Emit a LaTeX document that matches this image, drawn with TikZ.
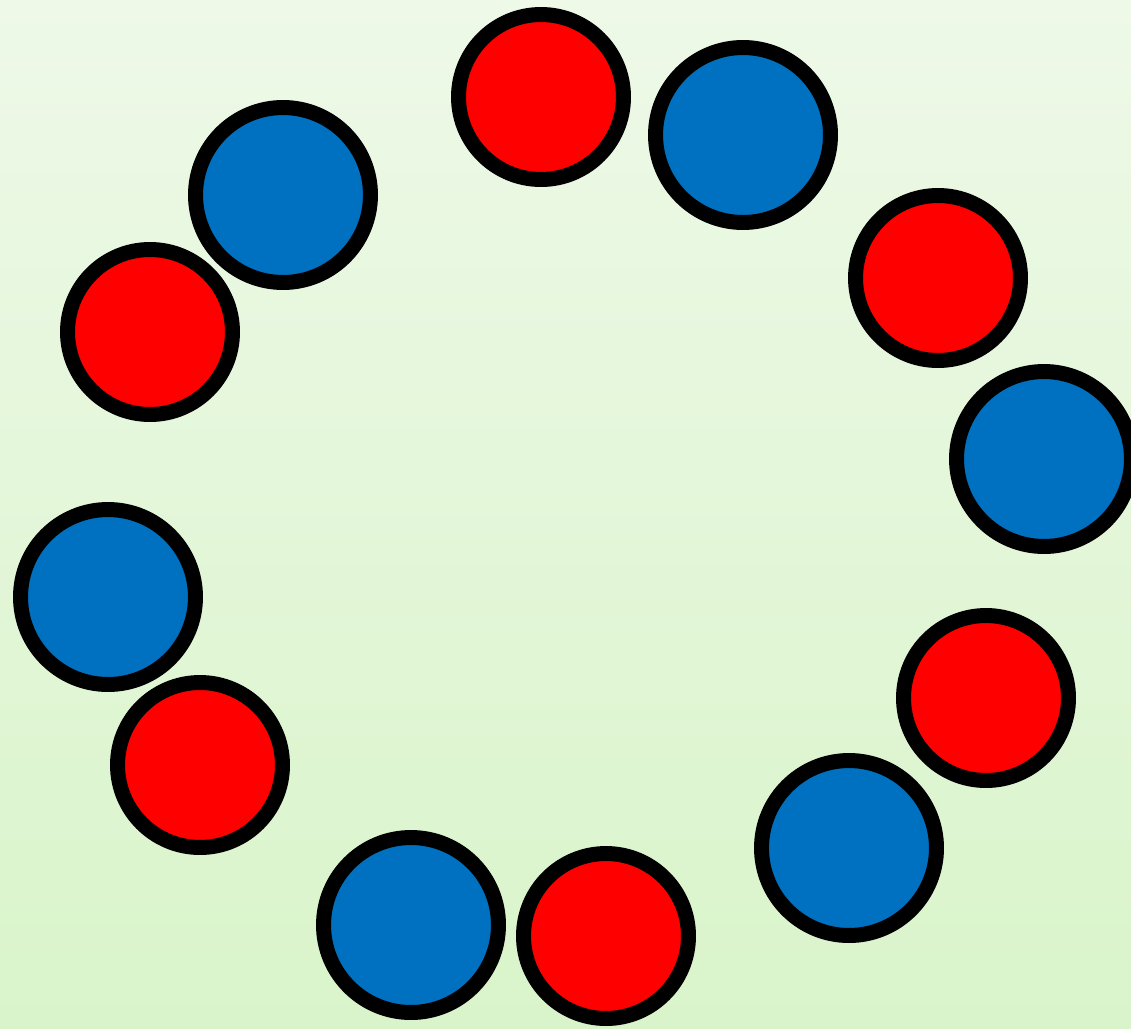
\documentclass[tikz,border=0pt]{standalone}
\usetikzlibrary{calc}

\definecolor{ballred}{HTML}{FF0000}
\definecolor{ballblue}{HTML}{0070C0}
\definecolor{bgtop}{HTML}{EEF9E8}
\definecolor{bgbottom}{HTML}{D9F4CA}

\tikzset{
  ball/.style={circle,draw=black,line width=0.3cm,inner sep=0pt},
  redball/.style={ball,fill=ballred,minimum size=3.3cm},
  blueball/.style={ball,fill=ballblue,minimum size=3.5cm}
}

\begin{document}
\begin{tikzpicture}[x=0.02cm,y=-0.02cm]

  % ---- background panel (fixes the page size) --------------------------
  \useasboundingbox (0,0) rectangle (1131,1028);
  \clip (0,0) rectangle (1131,1028);
  \shade[top color=bgtop,bottom color=bgbottom] (0,0) rectangle (1131,1028);

  % ---- ring of alternating balls (pixel positions, clockwise from top) --
  \foreach \n/\x/\y/\kind in {
      r1/541/97/redball,   b1/743/135/blueball,
      r2/938/278/redball,  b2/1044/459/blueball,
      r3/986/698/redball,  b3/849/848/blueball,
      r4/606/936/redball,  b4/411/925/blueball,
      r5/200/765/redball,  b5/108/597/blueball,
      r6/150/332/redball,  b6/283/195/blueball}{
    \node[\kind] (\n) at (\x,\y) {};
  }

\end{tikzpicture}
\end{document}
